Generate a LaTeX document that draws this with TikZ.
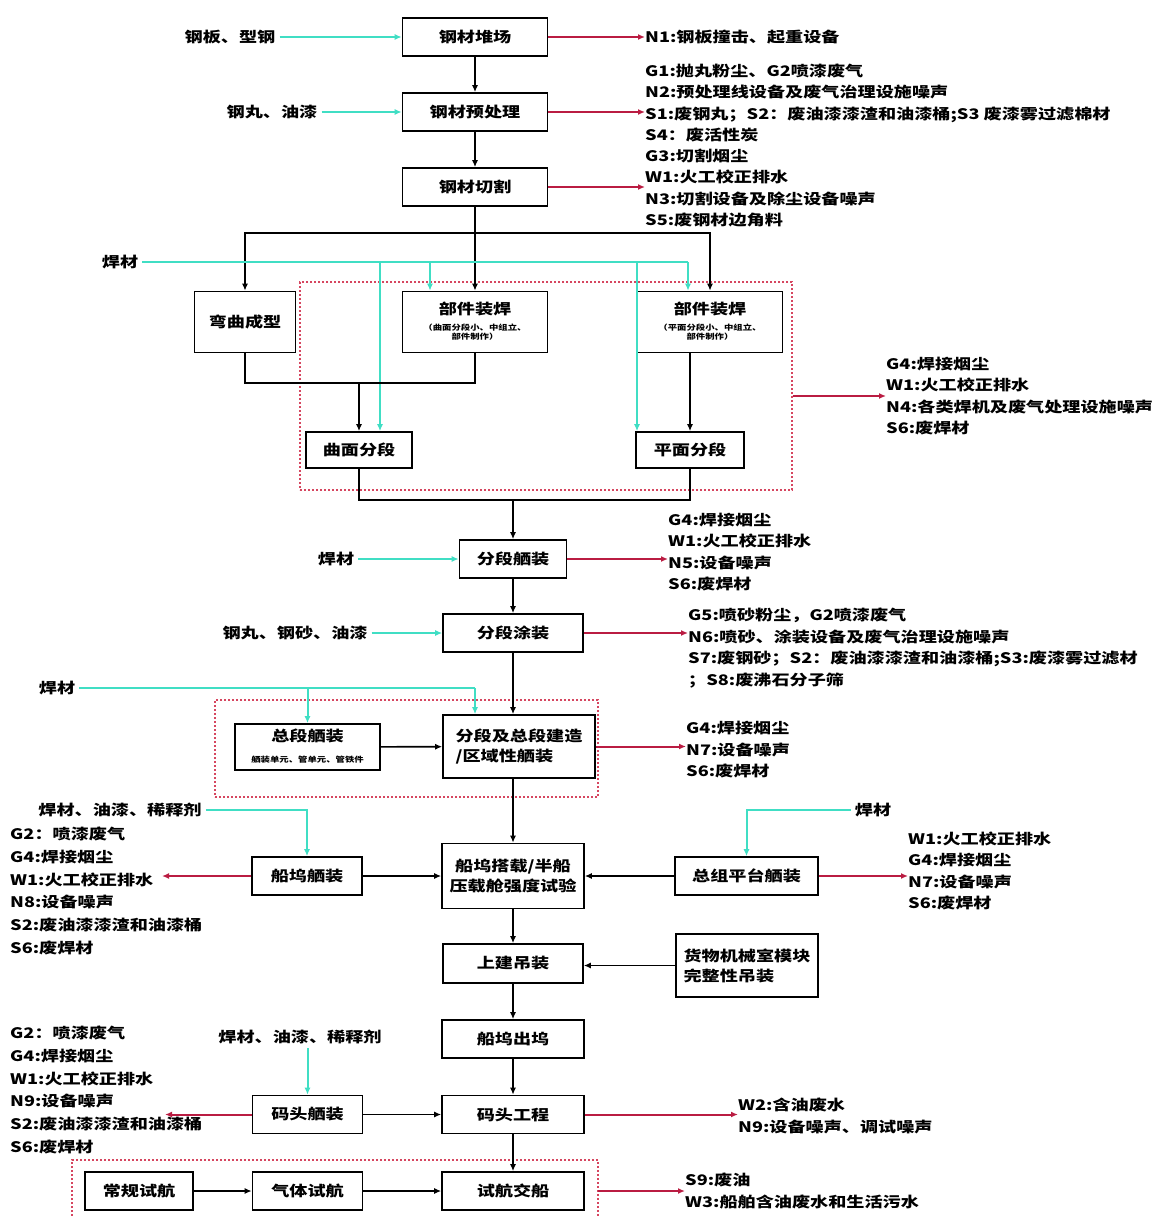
\documentclass[tikz,border=0pt]{standalone}
\usepackage{fontspec}
\setmainfont{Noto Sans CJK SC}[FakeStretch=1.25,BoldFeatures={FakeStretch=1.25}]
\usetikzlibrary{arrows.meta,positioning}
\definecolor{feedcyan}{RGB}{64,222,196}
\definecolor{emitred}{RGB}{186,28,66}
\definecolor{zonered}{RGB}{214,70,96}
\newcommand{\boxfont}{\fontsize{14.5pt}{20pt}\selectfont\bfseries}
\newcommand{\notefont}{\fontsize{14.5pt}{21.5pt}\selectfont\bfseries}
\newcommand{\smallfont}{\fontsize{7.5pt}{9.5pt}\selectfont}
\newcommand{\smalllines}[1]{{\smallfont\renewcommand{\arraystretch}{0.95}\begin{tabular}{@{}c@{}}#1\end{tabular}}}
\tikzset{
  proc/.style={
    rectangle,
    draw=black,
    line width=1.6pt,
    fill=white,
    align=center,
    minimum width=145pt,
    minimum height=38pt,
    inner sep=2pt,
    font=\boxfont
  },
  note/.style={anchor=west, align=left, inner sep=0pt, font=\notefont},
  notewide/.style={note, font=\fontsize{14.5pt}{22.8pt}\selectfont\bfseries},
  inlabel/.style={inner sep=4pt, font=\notefont},
  zone/.style={draw=zonered, line width=1.2pt, dash pattern=on 2pt off 2pt},
  joint/.style={line width=1.6pt},
  flow/.style={-{Latex[length=7pt,width=6pt]}, line width=1.6pt},
  feedline/.style={draw=feedcyan, line width=2pt},
  feed/.style={-{Latex[length=7pt,width=6pt]}, draw=feedcyan, line width=2pt},
  emit/.style={-{Latex[length=7pt,width=6pt]}, draw=emitred, line width=2pt}
}

\begin{document}
\begin{tikzpicture}[x=1pt,y=-1pt]
    \useasboundingbox (0,0) rectangle (1155,1216);
    \fill[white] (0,0) rectangle (1155,1216);

    \node[zone, minimum width=492pt, minimum height=208pt, inner sep=0pt] (zoneA) at (546,386) {};
    \node[zone, minimum width=383pt, minimum height=97pt, inner sep=0pt] (zoneB) at (406.5,748.5) {};
    \draw[zone] (72,1216) |- (598,1160) -- (598,1216);

    \node[inlabel] (steelIn) at (230,37) {钢板、型钢};
    \node[proc] (yard) at (475,37) {钢材堆场};
    \node[note] (n1) at (645,37) {N1:钢板撞击、起重设备};

    \node[inlabel] (shotIn) at (272,112) {钢丸、油漆};
    \node[proc] (pretreat) at (475,112) {钢材预处理};
    \node[note] (n2) at (645,103) {G1:抛丸粉尘、G2喷漆废气\\N2:预处理线设备及废气治理设施噪声\\S1:废钢丸；S2：废油漆漆渣和油漆桶;S3 废漆雾过滤棉材\\S4：废活性炭};

    \node[proc] (cutting) at (475,187) {钢材切割};
    \node[note] (n3) at (645,188) {G3:切割烟尘\\W1:火工校正排水\\N3:切割设备及除尘设备噪声\\S5:废钢材边角料};

    \node[proc, minimum width=101pt, minimum height=61pt] (bend) at (245,322) {弯曲成型};
    \node[proc, minimum height=61pt] (partA) at (475,322) {部件装焊\\\smalllines{（曲面分段小、中组立、\\部件制作）}};
    \node[proc, minimum height=61pt] (partB) at (710,322) {部件装焊\\\smalllines{（平面分段小、中组立、\\部件制作）}};
    \node[proc, minimum width=106pt, minimum height=36pt] (curveSeg) at (359,450) {曲面分段};
    \node[proc, minimum width=108pt, minimum height=36pt] (flatSeg) at (690,450) {平面分段};
    \node[note] (n4) at (886,396) {G4:焊接烟尘\\W1:火工校正排水\\N4:各类焊机及废气处理设施噪声\\S6:废焊材};

    \node[inlabel] (weldIn1) at (120,262) {焊材};
    \coordinate (fork) at (475,233);
    \coordinate (mergeA) at (359,383);
    \coordinate (mergeB) at (513,500);
    \coordinate (dropA) at (380,262);
    \coordinate (dropB) at (430,262);
    \coordinate (dropC) at (637,262);
    \coordinate (dropD) at (688,262);

    \node[inlabel] (weldIn2) at (336,559) {焊材};
    \node[proc, minimum width=107pt] (segOutfit) at (513,559) {分段舾装};
    \node[note] (n5) at (668,552) {G4:焊接烟尘\\W1:火工校正排水\\N5:设备噪声\\S6:废焊材};

    \node[inlabel] (paintIn) at (295,633) {钢丸、钢砂、油漆};
    \node[proc, minimum width=140pt] (segPaint) at (513,633) {分段涂装};
    \node[note] (n6) at (688,648) {G5:喷砂粉尘，G2喷漆废气\\N6:喷砂、涂装设备及废气治理设施噪声\\S7:废钢砂；S2：废油漆漆渣和油漆桶;S3:废漆雾过滤材\\；S8:废沸石分子筛};

    \node[inlabel] (weldIn3) at (57,688) {焊材};
    \coordinate (dropE) at (307.5,688);
    \coordinate (dropF) at (475,688);
    \node[proc, minimum height=46pt] (blockOutfit) at (307.5,747) {总段舾装\\\smalllines{舾装单元、管单元、管铁件}};
    \node[proc, minimum width=152pt, minimum height=63pt, align=left] (blockBuild) at (519,746.5) {分段及总段建造\\/区域性舾装};
    \node[note] (n7) at (686,750) {G4:焊接烟尘\\N7:设备噪声\\S6:废焊材};

    \node[inlabel] (mixIn1) at (120,810) {焊材、油漆、稀释剂};
    \node[proc, minimum width=110pt] (dockOutfit) at (307,876) {船坞舾装};
    \node[proc, minimum width=142pt, minimum height=65pt] (dockErect) at (513,876) {船坞搭载/半船\\压载舱强度试验};
    \node[proc, minimum width=143pt] (platOutfit) at (746.5,876) {总组平台舾装};
    \node[inlabel] (weldIn4) at (873,810) {焊材};
    \coordinate (n8tip) at (162,876);
    \node[notewide] (n8) at (10,891) {G2：喷漆废气\\G4:焊接烟尘\\W1:火工校正排水\\N8:设备噪声\\S2:废油漆漆渣和油漆桶\\S6:废焊材};
    \node[note] (n9) at (908,871) {W1:火工校正排水\\G4:焊接烟尘\\N7:设备噪声\\S6:废焊材};

    \node[proc, minimum width=140pt, minimum height=39pt] (superLift) at (513,963.5) {上建吊装};
    \node[proc, minimum width=142pt, minimum height=63pt, align=left] (moduleLift) at (747,965.5) {货物机械室模块\\完整性吊装};
    \node[proc, minimum width=142pt] (undock) at (513,1039) {船坞出坞};

    \node[inlabel] (mixIn2) at (300,1037) {焊材、油漆、稀释剂};
    \node[proc, minimum width=110pt] (quayOutfit) at (307.5,1114.5) {码头舾装};
    \node[proc, minimum width=142pt] (quayWork) at (513,1114.5) {码头工程};
    \coordinate (n10tip) at (165,1114.5);
    \node[notewide] (n10) at (10,1090) {G2：喷漆废气\\G4:焊接烟尘\\W1:火工校正排水\\N9:设备噪声\\S2:废油漆漆渣和油漆桶\\S6:废焊材};
    \node[note] (n11) at (738,1116) {W2:含油废水\\N9:设备噪声、调试噪声};

    \node[proc, minimum width=108pt] (routineTrial) at (139,1191) {常规试航};
    \node[proc, minimum width=110pt] (gasTrial) at (307.5,1191) {气体试航};
    \node[proc, minimum width=142pt] (delivery) at (513,1191) {试航交船};
    \coordinate (zoneCedge) at (598,1191);
    \node[note] (n12) at (685,1191) {S9:废油\\W3:船舶含油废水和生活污水};

    \draw[feed] (steelIn) -- (yard);
    \draw[feed] (shotIn) -- (pretreat);
    \draw[flow] (yard) -- (pretreat);
    \draw[flow] (pretreat) -- (cutting);
    \draw[emit] (yard) -- (n1);
    \draw[emit] (pretreat.east) -- (pretreat.east -| n2.west);
    \draw[emit] (cutting.east) -- (cutting.east -| n3.west);

    \draw[joint] (cutting) -- (fork);
    \draw[flow] (fork) -| (bend);
    \draw[flow] (fork) -- (partA);
    \draw[flow] (fork) -| (partB);
    \draw[feedline] (weldIn1) -- (dropD);
    \draw[feed] (dropA) -- (dropA |- curveSeg.north);
    \draw[feed] (dropB) -- (dropB |- partA.north);
    \draw[feed] (dropC) -- (dropC |- flatSeg.north);
    \draw[feed] (dropD) -- (dropD |- partB.north);
    \draw[joint] (bend) |- (mergeA);
    \draw[joint] (partA) |- (mergeA);
    \draw[flow] (mergeA) -- (curveSeg);
    \draw[flow] (partB.south -| flatSeg) -- (flatSeg);
    \draw[joint] (curveSeg) |- (mergeB) -| (flatSeg);
    \draw[emit] (zoneA.east |- n4.west) -- (n4.west);

    \draw[flow] (mergeB) -- (segOutfit);
    \draw[feed] (weldIn2) -- (segOutfit);
    \draw[emit] (segOutfit.east) -- (segOutfit.east -| n5.west);
    \draw[flow] (segOutfit) -- (segPaint);
    \draw[feed] (paintIn) -- (segPaint);
    \draw[emit] (segPaint.east) -- (segPaint.east -| n6.west);

    \draw[feedline] (weldIn3) -- (dropF);
    \draw[feed] (dropE) -- (blockOutfit);
    \draw[feed] (dropF) -- (dropF |- blockBuild.north);
    \draw[flow] (segPaint.south) -- (segPaint.south |- blockBuild.north);
    \draw[flow] (blockOutfit) -- (blockBuild);
    \draw[emit] (blockBuild) -- (blockBuild -| n7.west);

    \draw[flow] (blockBuild.south -| dockErect) -- (dockErect);
    \draw[feed] (mixIn1) -| (dockOutfit);
    \draw[flow] (dockOutfit) -- (dockErect);
    \draw[emit] (dockOutfit) -- (n8tip);
    \draw[feed] (weldIn4) -| (platOutfit);
    \draw[flow] (platOutfit) -- (dockErect);
    \draw[emit] (platOutfit) -- (platOutfit -| n9.west);

    \draw[flow] (dockErect) -- (superLift);
    \draw[flow] (moduleLift) -- (moduleLift -| superLift.east);
    \draw[flow] (superLift) -- (undock);
    \draw[flow] (undock) -- (quayWork);
    \draw[feed] (mixIn2.south -| quayOutfit) -- (quayOutfit);
    \draw[flow] (quayOutfit) -- (quayWork);
    \draw[emit] (quayOutfit) -- (n10tip);
    \draw[emit] (quayWork) -- (quayWork -| n11.west);

    \draw[flow] (quayWork) -- (delivery);
    \draw[flow] (routineTrial) -- (gasTrial);
    \draw[flow] (gasTrial) -- (delivery);
    \draw[emit] (zoneCedge) -- (zoneCedge -| n12.west);
  \end{tikzpicture}
\end{document}
